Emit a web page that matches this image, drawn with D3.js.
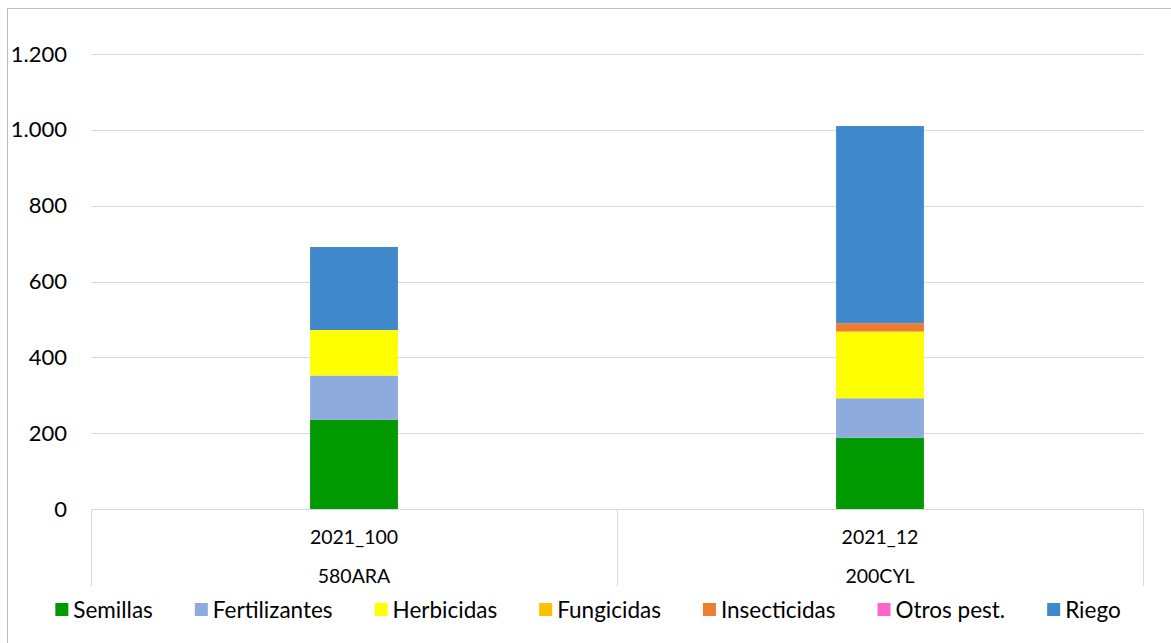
<!DOCTYPE html>
<html>
<head>
<meta charset="utf-8">
<script src="https://cdn.jsdelivr.net/npm/d3@7"></script>
<style>
  html, body { margin: 0; padding: 0; background: #fff; }
  svg { display: block; font-family: Lato, 'Open Sans', sans-serif; }
</style>
</head>
<body>
<div id="chart"></div>
<script>
// values
const categories = ['2021_100', '2021_12'];
const groups = ['580ARA', '200CYL'];
const seriesNames = ['Semillas', 'Fertilizantes', 'Herbicidas', 'Fungicidas', 'Insecticidas', 'Otros pest.', 'Riego'];
const semillas = [235, 188];
const fertilizantes = [117, 104];
const herbicidas = [120, 176];
const fungicidas = [0, 0];
const insecticidas = [0, 22];
const otrosPest = [0, 0];
const riego = [219, 520];
const yTicks = [0, 200, 400, 600, 800, 1000, 1200];
const colors = ['#009900', '#8faadc', '#ffff00', '#ffc000', '#ed7d31', '#ff66cc', '#3f88cc'];

const seriesValues = [semillas, fertilizantes, herbicidas, fungicidas, insecticidas, otrosPest, riego];
const rows = categories.map((c, i) => {
  const row = { category: c, group: groups[i] };
  seriesNames.forEach((s, j) => { row[s] = seriesValues[j][i]; });
  return row;
});

const canvasWidth = 1171;
const canvasHeight = 643;
const margins = { top: 54, right: 28, bottom: 134, left: 91 };
const width = canvasWidth - margins.left - margins.right;
const height = canvasHeight - margins.top - margins.bottom;

const svg = d3.select('#chart')
  .append('svg')
  .attr('width', canvasWidth)
  .attr('height', canvasHeight);

// outer chart border
svg.append('rect')
  .attr('x', 7.5)
  .attr('y', 8.5)
  .attr('width', canvasWidth)
  .attr('height', canvasHeight)
  .attr('fill', 'none')
  .attr('stroke', '#bfbfbf');

const chart = svg.append('g')
  .attr('transform', `translate(${margins.left}, ${margins.top})`);

const scaleX = d3.scaleBand()
  .domain(categories)
  .range([0, width]);
const scaleY = d3.scaleLinear()
  .domain([0, 1200])
  .range([height, 0]);

const locale = d3.formatLocale({ decimal: ',', thousands: '.', grouping: [3], currency: ['', ''] });
const fmt = locale.format(',d');

// gridlines
chart.append('g')
  .selectAll('line')
  .data(yTicks.filter(d => d > 0))
  .enter()
  .append('line')
    .attr('x1', 0)
    .attr('x2', width)
    .attr('y1', d => Math.round(scaleY(d)) + 0.5)
    .attr('y2', d => Math.round(scaleY(d)) + 0.5)
    .attr('stroke', '#d9d9d9');

// y axis labels
const axisY = d3.axisLeft(scaleY)
  .tickValues(yTicks)
  .tickFormat(fmt)
  .tickSize(0)
  .tickPadding(24);
chart.append('g')
  .call(axisY)
  .call(g => g.select('.domain').remove())
  .selectAll('text')
    .attr('font-family', 'Lato, sans-serif')
    .attr('font-size', 22)
    .attr('fill', '#000');

// bars
const stacked = d3.stack().keys(seriesNames)(rows);
const barWidth = scaleX.bandwidth() * 0.167;
chart.append('g')
  .selectAll('g')
  .data(stacked)
  .enter()
  .append('g')
    .attr('fill', (d, i) => colors[i])
  .selectAll('rect')
  .data(d => d)
  .enter()
  .append('rect')
    .attr('x', d => scaleX(d.data.category) + scaleX.bandwidth() / 2 - barWidth / 2)
    .attr('y', d => scaleY(d[1]))
    .attr('width', barWidth)
    .attr('height', d => scaleY(d[0]) - scaleY(d[1]));

// category axis: baseline and separators
const catAxis = chart.append('g')
  .attr('transform', `translate(0, ${height})`);
catAxis.append('line')
  .attr('x1', 0).attr('x2', width)
  .attr('y1', 0.5).attr('y2', 0.5)
  .attr('stroke', '#d9d9d9');
catAxis.selectAll('.sep')
  .data([0, ...categories.map(c => scaleX(c) + scaleX.bandwidth())])
  .enter()
  .append('line')
    .attr('x1', d => Math.round(d) + 0.5)
    .attr('x2', d => Math.round(d) + 0.5)
    .attr('y1', 0)
    .attr('y2', 77)
    .attr('stroke', '#d9d9d9');

catAxis.selectAll('.cat')
  .data(rows)
  .enter()
  .append('text')
    .attr('x', d => scaleX(d.category) + scaleX.bandwidth() / 2)
    .attr('y', 35)
    .attr('text-anchor', 'middle')
    .attr('font-size', 19.5)
    .text(d => d.category);

catAxis.selectAll('.grp')
  .data(rows)
  .enter()
  .append('text')
    .attr('x', d => scaleX(d.category) + scaleX.bandwidth() / 2)
    .attr('y', 74)
    .attr('text-anchor', 'middle')
    .attr('font-size', 19.5)
    .text(d => d.group);

// legend
const legend = svg.append('g')
  .attr('transform', 'translate(0, 610)');
const items = legend.selectAll('g')
  .data(seriesNames)
  .enter()
  .append('g');
items.append('rect')
  .attr('x', 0)
  .attr('y', -7)
  .attr('width', 13)
  .attr('height', 13)
  .attr('fill', (d, i) => colors[i]);
items.append('text')
  .attr('x', 18)
  .attr('y', 8)
  .attr('font-size', 22.5)
  .text(d => d);

let offset = 0;
const gap = 42;
items.each(function place() {
  const w = 18 + d3.select(this).select('text').node().getComputedTextLength();
  d3.select(this).attr('transform', `translate(${offset}, 0)`);
  offset += w + gap;
});
const total = offset - gap;
legend.attr('transform', `translate(${588 - total / 2}, 610)`);
</script>
</body>
</html>
